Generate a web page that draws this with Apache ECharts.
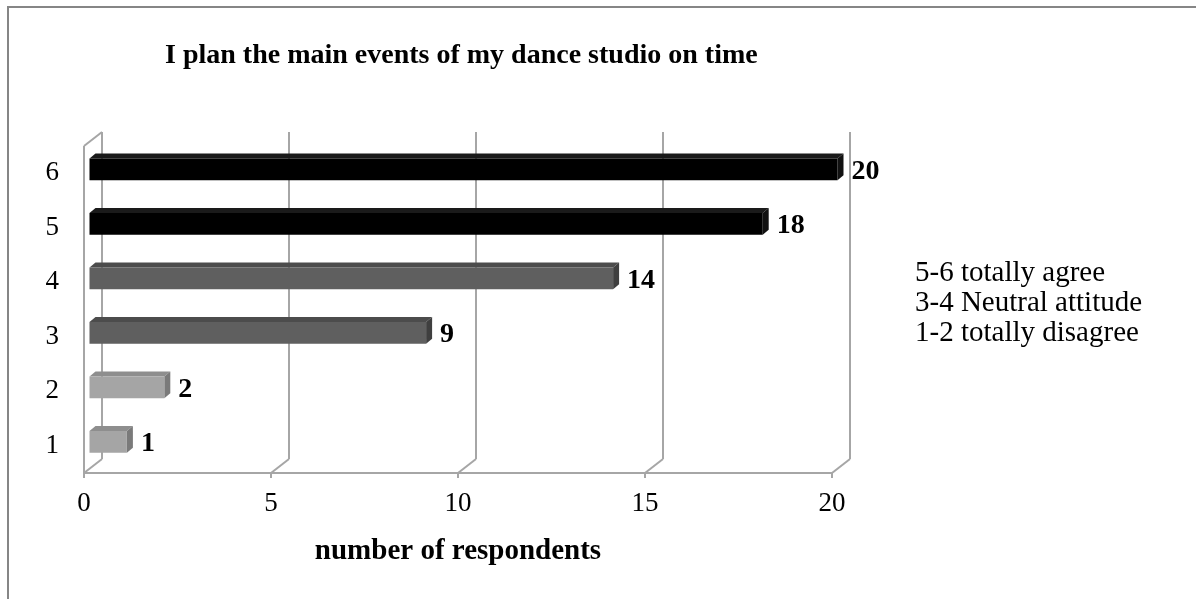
<!DOCTYPE html>
<html>
<head>
<meta charset="utf-8">
<script src="https://cdn.jsdelivr.net/npm/echarts@6/dist/echarts.min.js"></script>
<style>html,body{margin:0;padding:0;background:#fff}#c{width:1196px;height:599px}</style>
</head>
<body>
<div id="c"></div>
<script>
var titleText = 'I plan the main events of my dance studio on time';
var categories = ['1', '2', '3', '4', '5', '6'];
var values = [1, 2, 9, 14, 18, 20];
var groups = [0, 0, 1, 1, 2, 2];
var xTicks = [0, 5, 10, 15, 20];
var xAxisName = 'number of respondents';
var legendLabels = ['5-6 totally agree', '3-4 Neutral attitude', '1-2 totally disagree'];

var FONT = '"Liberation Serif", "Times New Roman", serif';
var faceColors = ['#a5a5a5', '#5f5f5f', '#000000'];
var topColors = ['#8e8e8e', '#4c4c4c', '#1a1a1a'];
var sideColors = ['#7a7a7a', '#3f3f3f', '#111111'];
var GRID = '#a6a6a6';
var DX = 18, DY = -14;

var barData = values.map(function (v, i) { return [v, i, groups[i]]; });

var chart = echarts.init(document.getElementById('c'));
chart.setOption({
  animation: false,
  backgroundColor: '#fff',
  title: {
    text: titleText, left: 160, top: 37,
    textStyle: { fontFamily: FONT, fontWeight: 'bold', fontSize: 28, color: '#000' }
  },
  grid: { left: 84, right: 364, top: 146, bottom: 126 },
  xAxis: {
    type: 'value', min: 0, max: 20, interval: 5,
    name: xAxisName, nameLocation: 'middle', nameGap: 64,
    nameTextStyle: { fontFamily: FONT, fontWeight: 'bold', fontSize: 29, color: '#000' },
    axisLine: { show: true, lineStyle: { color: GRID, width: 2 } },
    axisTick: { show: true, length: 5, lineStyle: { color: GRID, width: 2 } },
    splitLine: { show: false },
    axisLabel: { fontFamily: FONT, fontSize: 27, color: '#000', margin: 17 }
  },
  yAxis: {
    type: 'category', data: categories,
    axisLine: { show: false }, axisTick: { show: false }, splitLine: { show: false },
    axisLabel: { fontFamily: FONT, fontSize: 27, color: '#000', margin: 25 }
  },
  graphic: [
    { type: 'rect', shape: { x: 8, y: 7, width: 1400, height: 800 }, style: { fill: 'none', stroke: '#868686', lineWidth: 2 }, silent: true, z: -10 }
  ].concat(legendLabels.map(function (t, i) {
    return { type: 'text', left: 915, top: 259 + i * 30, style: { text: t, font: '29px ' + FONT, fill: '#000' } };
  })),
  series: [
    {
      type: 'custom', name: 'frame', silent: true, z: 1,
      data: xTicks,
      encode: { x: 0 },
      renderItem: function (params, api) {
        var cs = params.coordSys;
        var t = api.value(0);
        var x = api.coord([t, 0])[0];
        var yb = cs.y + cs.height, yt = cs.y;
        var st = { stroke: GRID, lineWidth: 2, fill: 'none' };
        var children = [
          { type: 'line', shape: { x1: x, y1: yb, x2: x + DX, y2: yb + DY }, style: st },
          { type: 'line', shape: { x1: x + DX, y1: yb + DY, x2: x + DX, y2: yt + DY }, style: st }
        ];
        if (params.dataIndex === 0) {
          children.push({ type: 'line', shape: { x1: x, y1: yb, x2: x, y2: yt }, style: st });
          children.push({ type: 'line', shape: { x1: x, y1: yt, x2: x + DX, y2: yt + DY }, style: st });
        }
        return { type: 'group', children: children };
      }
    },
    {
      type: 'custom', name: 'bars', z: 3,
      data: barData,
      encode: { x: 0, y: 1 },
      renderItem: function (params, api) {
        var v = api.value(0), c = api.value(1), g = api.value(2);
        var p0 = api.coord([0, c]);
        var p1 = api.coord([v, c]);
        var band = api.size([0, 1])[1];
        var x0 = p0[0] + 5.5, x1 = p1[0] + 5.5;
        var top = p0[1] - band * 0.27, bot = p0[1] + band * 0.13;
        var dx = 6, dy = -5;
        return {
          type: 'group',
          children: [
            { type: 'polygon', shape: { points: [[x0, top], [x0 + dx, top + dy], [x1 + dx, top + dy], [x1, top]] }, style: { fill: topColors[g] } },
            { type: 'polygon', shape: { points: [[x1, top], [x1 + dx, top + dy], [x1 + dx, bot + dy], [x1, bot]] }, style: { fill: sideColors[g] } },
            { type: 'rect', shape: { x: x0, y: top, width: x1 - x0, height: bot - top }, style: { fill: faceColors[g] } },
            { type: 'text', style: { text: String(v), x: x1 + dx + 8, y: (top + bot) / 2 + 2, textVerticalAlign: 'middle', font: 'bold 28px ' + FONT, fill: '#000' } }
          ]
        };
      }
    }
  ]
});
</script>
</body>
</html>
